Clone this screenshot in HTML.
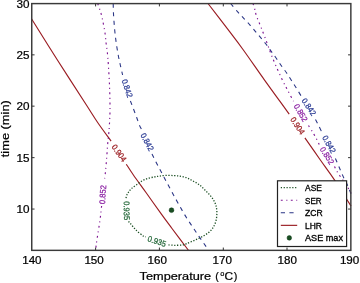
<!DOCTYPE html>
<html><head><meta charset="utf-8"><style>
html,body{margin:0;padding:0;background:#fff;}
svg{display:block;filter:blur(0.3px);}
text{font-family:"Liberation Sans",sans-serif;}
svg g.lab, svg g.tk, svg g.lg {will-change:transform;}
.tk text{stroke:#000;stroke-width:0.22px;}
.lg text{stroke:#000;stroke-width:0.32px;}
</style></head><body>
<svg width="360" height="283" viewBox="0 0 360 283">
<rect width="360" height="283" fill="#fff"/>
<g>
<path d="M31.50,18.80 C35.82,25.67 48.25,45.63 57.40,60.00 C66.55,74.37 79.63,94.50 86.40,105.00 C93.17,115.50 93.88,116.98 98.00,123.00 C102.12,129.02 108.92,138.08 111.10,141.10" fill="none" stroke="#9a1c22" stroke-width="1.15" stroke-linecap="butt"/>
<path d="M126.30,164.20 C127.48,166.00 130.12,170.28 133.40,175.00 C136.68,179.72 141.33,185.97 146.00,192.50 C150.67,199.03 157.07,208.20 161.40,214.20 C165.73,220.20 167.47,222.45 172.00,228.50 C176.53,234.55 185.83,246.83 188.60,250.50" fill="none" stroke="#9a1c22" stroke-width="1.15" stroke-linecap="butt"/>
<path d="M208.00,3.50 C211.35,7.87 222.27,22.03 228.10,29.70 C233.93,37.37 236.98,41.18 243.00,49.50 C249.02,57.82 258.03,70.95 264.20,79.60 C270.37,88.25 275.83,95.65 280.00,101.40 C284.17,107.15 287.67,111.98 289.20,114.10" fill="none" stroke="#9a1c22" stroke-width="1.15" stroke-linecap="butt"/>
<path d="M304.90,137.80 C307.42,141.42 315.05,152.45 320.00,159.50 C324.95,166.55 330.10,173.40 334.60,180.10 C339.10,186.80 344.27,195.38 347.00,199.70 C349.73,204.02 350.33,204.95 351.00,206.00" fill="none" stroke="#9a1c22" stroke-width="1.15" stroke-linecap="butt"/>
<path d="M113.20,3.50 C113.25,5.25 113.33,10.58 113.50,14.00 C113.67,17.42 113.93,20.67 114.20,24.00 C114.47,27.33 114.73,30.67 115.10,34.00 C115.47,37.33 115.88,40.50 116.40,44.00 C116.92,47.50 117.55,51.50 118.20,55.00 C118.85,58.50 119.57,61.67 120.30,65.00 C121.03,68.33 122.22,73.33 122.60,75.00" fill="none" stroke="#2a3585" stroke-width="1.08" stroke-linecap="butt" stroke-dasharray="4.2 4.4"/>
<path d="M130.40,101.00 C130.92,102.33 132.47,106.30 133.50,109.00 C134.53,111.70 135.60,114.47 136.60,117.20 C137.60,119.93 138.67,123.35 139.50,125.40 C140.33,127.45 141.25,128.82 141.60,129.50" fill="none" stroke="#2a3585" stroke-width="1.08" stroke-linecap="butt" stroke-dasharray="4.2 4.4"/>
<path d="M152.00,154.00 C152.62,155.23 153.37,156.90 155.70,161.40 C158.03,165.90 162.60,174.63 166.00,181.00 C169.40,187.37 172.82,193.70 176.10,199.60 C179.38,205.50 182.38,211.00 185.70,216.40 C189.02,221.80 192.58,226.93 196.00,232.00 C199.42,237.07 204.10,243.72 206.20,246.80 C208.30,249.88 208.20,249.88 208.60,250.50" fill="none" stroke="#2a3585" stroke-width="1.08" stroke-linecap="butt" stroke-dasharray="4.2 4.4"/>
<path d="M230.60,3.50 C231.90,5.03 236.13,10.15 238.40,12.70 C240.67,15.25 242.30,16.78 244.20,18.80 C246.10,20.82 247.92,22.67 249.80,24.80 C251.68,26.93 253.62,29.37 255.50,31.60 C257.38,33.83 259.18,35.90 261.10,38.20 C263.02,40.50 265.25,43.12 267.00,45.40 C268.75,47.68 270.00,49.68 271.60,51.90 C273.20,54.12 274.97,56.38 276.60,58.70 C278.23,61.02 279.75,63.45 281.40,65.80 C283.05,68.15 284.90,70.48 286.50,72.80 C288.10,75.12 289.45,77.30 291.00,79.70 C292.55,82.10 294.08,84.43 295.80,87.20 C297.52,89.97 300.38,94.78 301.30,96.30" fill="none" stroke="#2a3585" stroke-width="1.08" stroke-linecap="butt" stroke-dasharray="4.2 4.4"/>
<path d="M315.50,119.50 C316.07,120.60 317.75,123.77 318.90,126.10 C320.05,128.43 321.82,132.27 322.40,133.50" fill="none" stroke="#2a3585" stroke-width="1.08" stroke-linecap="butt" stroke-dasharray="4.2 4.4"/>
<path d="M335.40,158.50 C336.08,160.08 338.03,164.62 339.50,168.00 C340.97,171.38 342.87,175.93 344.20,178.80 C345.53,181.67 346.37,182.67 347.50,185.20 C348.63,187.73 350.42,192.53 351.00,194.00" fill="none" stroke="#2a3585" stroke-width="1.08" stroke-linecap="butt" stroke-dasharray="4.2 4.4"/>
<path d="M97.70,3.50 C98.25,5.13 100.08,10.05 101.00,13.30 C101.92,16.55 102.53,19.72 103.20,23.00 C103.87,26.28 104.52,29.63 105.00,33.00 C105.48,36.37 105.72,40.03 106.10,43.20 C106.48,46.37 106.92,48.30 107.30,52.00 C107.68,55.70 108.02,59.45 108.40,65.40 C108.78,71.35 109.33,80.27 109.60,87.70 C109.87,95.13 110.03,103.78 110.00,110.00 C109.97,116.22 109.60,121.13 109.40,125.00 C109.20,128.87 109.08,130.07 108.80,133.20 C108.52,136.33 108.05,139.73 107.70,143.80 C107.35,147.87 107.05,153.18 106.70,157.60 C106.35,162.02 105.93,166.82 105.60,170.30 C105.27,173.78 104.85,177.13 104.70,178.50" fill="none" stroke="#7e1492" stroke-width="1.15" stroke-linecap="butt" stroke-dasharray="1.9 3.6 1.1 3.4"/>
<path d="M101.60,206.00 C101.33,208.33 100.77,214.43 100.00,220.00 C99.23,225.57 97.75,234.32 97.00,239.40 C96.25,244.48 95.75,248.65 95.50,250.50" fill="none" stroke="#7e1492" stroke-width="1.15" stroke-linecap="butt" stroke-dasharray="1.9 3.6 1.1 3.4"/>
<path d="M253.00,3.50 C253.28,4.42 254.12,6.92 254.70,9.00 C255.28,11.08 255.38,12.80 256.50,16.00 C257.62,19.20 259.68,23.80 261.40,28.20 C263.12,32.60 265.17,38.02 266.80,42.40 C268.43,46.78 269.67,50.57 271.20,54.50 C272.73,58.43 274.23,61.95 276.00,66.00 C277.77,70.05 279.88,74.80 281.80,78.80 C283.72,82.80 285.55,86.27 287.50,90.00 C289.45,93.73 292.50,99.33 293.50,101.20" fill="none" stroke="#7e1492" stroke-width="1.15" stroke-linecap="butt" stroke-dasharray="1.9 3.6 1.1 3.4"/>
<path d="M308.50,125.50 C309.17,126.55 311.22,129.67 312.50,131.80 C313.78,133.93 315.08,136.18 316.20,138.30 C317.32,140.42 318.70,143.47 319.20,144.50" fill="none" stroke="#7e1492" stroke-width="1.15" stroke-linecap="butt" stroke-dasharray="1.9 3.6 1.1 3.4"/>
<path d="M334.50,166.50 C334.82,167.15 335.57,168.93 336.40,170.40 C337.23,171.87 338.48,173.77 339.50,175.30 C340.52,176.83 341.25,177.82 342.50,179.60 C343.75,181.38 345.58,183.77 347.00,186.00 C348.42,188.23 350.33,191.83 351.00,193.00" fill="none" stroke="#7e1492" stroke-width="1.15" stroke-linecap="butt" stroke-dasharray="1.9 3.6 1.1 3.4"/>
<path d="M128.50,221.50 C128.85,221.88 129.35,222.38 130.60,223.80 C131.85,225.22 133.88,227.95 136.00,230.00 C138.12,232.05 141.70,234.93 143.30,236.10 C144.90,237.27 145.22,236.85 145.60,237.00" fill="none" stroke="#1a4e22" stroke-width="1.3" stroke-linecap="butt" stroke-dasharray="1.25 1.6"/>
<path d="M168.50,244.90 C169.58,244.97 172.67,245.30 175.00,245.30 C177.33,245.30 180.55,245.18 182.50,244.90 C184.45,244.62 184.90,244.28 186.70,243.60 C188.50,242.92 191.08,241.77 193.30,240.80 C195.52,239.83 197.77,238.95 200.00,237.80 C202.23,236.65 204.67,235.38 206.70,233.90 C208.73,232.42 210.68,230.97 212.20,228.90 C213.72,226.83 215.02,224.22 215.80,221.50 C216.58,218.78 216.88,215.28 216.90,212.60 C216.92,209.92 216.48,207.53 215.90,205.40 C215.32,203.27 214.43,201.55 213.40,199.80 C212.37,198.05 211.03,196.45 209.70,194.90 C208.37,193.35 206.83,191.95 205.40,190.50 C203.97,189.05 202.55,187.43 201.10,186.20 C199.65,184.97 198.35,184.13 196.70,183.10 C195.05,182.07 192.95,180.92 191.20,180.00 C189.45,179.08 188.07,178.23 186.20,177.60 C184.33,176.97 182.03,176.53 180.00,176.20 C177.97,175.87 176.33,175.73 174.00,175.60 C171.67,175.47 168.42,175.32 166.00,175.40 C163.58,175.48 161.37,175.85 159.50,176.10 C157.63,176.35 156.62,176.55 154.80,176.90 C152.98,177.25 150.67,177.57 148.60,178.20 C146.53,178.83 144.47,179.57 142.40,180.70 C140.33,181.83 138.05,183.67 136.20,185.00 C134.35,186.33 132.53,187.57 131.30,188.70 C130.07,189.83 129.53,190.77 128.80,191.80 C128.07,192.83 127.38,193.78 126.90,194.90 C126.42,196.02 126.07,197.90 125.90,198.50" fill="none" stroke="#1a4e22" stroke-width="1.3" stroke-linecap="butt" stroke-dasharray="1.25 1.6"/>
</g>
<g class="lab">
<text stroke="#2f3f96" stroke-width="0.25" transform="translate(127.3,88.4) rotate(71)" x="0" y="2.95" text-anchor="middle" font-size="8.2" fill="#2f3f96" textLength="19" lengthAdjust="spacingAndGlyphs">0.842</text>
<text stroke="#2f3f96" stroke-width="0.25" transform="translate(147.4,142) rotate(62)" x="0" y="2.95" text-anchor="middle" font-size="8.2" fill="#2f3f96" textLength="19" lengthAdjust="spacingAndGlyphs">0.842</text>
<text stroke="#9c2024" stroke-width="0.25" transform="translate(119.2,153) rotate(54)" x="0" y="2.95" text-anchor="middle" font-size="8.2" fill="#9c2024" textLength="19" lengthAdjust="spacingAndGlyphs">0.904</text>
<text stroke="#8a1ea2" stroke-width="0.25" transform="translate(102.6,194.6) rotate(-86)" x="0" y="2.95" text-anchor="middle" font-size="8.2" fill="#8a1ea2" textLength="19" lengthAdjust="spacingAndGlyphs">0.852</text>
<text stroke="#25683a" stroke-width="0.25" transform="translate(126.8,210.7) rotate(89)" x="0" y="2.95" text-anchor="middle" font-size="8.2" fill="#25683a" textLength="19" lengthAdjust="spacingAndGlyphs">0.935</text>
<text stroke="#25683a" stroke-width="0.25" transform="translate(156.9,241.2) rotate(18)" x="0" y="2.95" text-anchor="middle" font-size="8.2" fill="#25683a" textLength="19" lengthAdjust="spacingAndGlyphs">0.935</text>
<text stroke="#2f3f96" stroke-width="0.25" transform="translate(309,106.9) rotate(55)" x="0" y="2.95" text-anchor="middle" font-size="8.2" fill="#2f3f96" textLength="19" lengthAdjust="spacingAndGlyphs">0.842</text>
<text stroke="#8a1ea2" stroke-width="0.25" transform="translate(300.8,112.7) rotate(60)" x="0" y="2.95" text-anchor="middle" font-size="8.2" fill="#8a1ea2" textLength="19" lengthAdjust="spacingAndGlyphs">0.852</text>
<text stroke="#9c2024" stroke-width="0.25" transform="translate(297.7,125.8) rotate(56)" x="0" y="2.95" text-anchor="middle" font-size="8.2" fill="#9c2024" textLength="19" lengthAdjust="spacingAndGlyphs">0.904</text>
<text stroke="#2f3f96" stroke-width="0.25" transform="translate(329.2,144.2) rotate(60)" x="0" y="2.95" text-anchor="middle" font-size="8.2" fill="#2f3f96" textLength="19" lengthAdjust="spacingAndGlyphs">0.842</text>
<text stroke="#8a1ea2" stroke-width="0.25" transform="translate(327.2,155.6) rotate(57)" x="0" y="2.95" text-anchor="middle" font-size="8.2" fill="#8a1ea2" textLength="19" lengthAdjust="spacingAndGlyphs">0.852</text>
</g>
<circle cx="171.5" cy="210.2" r="2.4" fill="#1a4e22" stroke="#0a3a14" stroke-width="0.5"/>
<rect x="31.75" y="3.6" width="319.10" height="246.75" fill="none" stroke="#3a3a3a" stroke-width="1.45"/>
<g stroke="#333" stroke-width="1">
<line x1="95.60" y1="250.35" x2="95.60" y2="247.55"/>
<line x1="95.60" y1="3.6" x2="95.60" y2="6.40"/>
<line x1="159.40" y1="250.35" x2="159.40" y2="247.55"/>
<line x1="159.40" y1="3.6" x2="159.40" y2="6.40"/>
<line x1="223.30" y1="250.35" x2="223.30" y2="247.55"/>
<line x1="223.30" y1="3.6" x2="223.30" y2="6.40"/>
<line x1="287.00" y1="250.35" x2="287.00" y2="247.55"/>
<line x1="287.00" y1="3.6" x2="287.00" y2="6.40"/>
<line x1="31.75" y1="54.85" x2="34.55" y2="54.85"/>
<line x1="350.85" y1="54.85" x2="348.05" y2="54.85"/>
<line x1="31.75" y1="106.15" x2="34.55" y2="106.15"/>
<line x1="350.85" y1="106.15" x2="348.05" y2="106.15"/>
<line x1="31.75" y1="157.65" x2="34.55" y2="157.65"/>
<line x1="350.85" y1="157.65" x2="348.05" y2="157.65"/>
<line x1="31.75" y1="209.05" x2="34.55" y2="209.05"/>
<line x1="350.85" y1="209.05" x2="348.05" y2="209.05"/>
</g>
<rect x="277.5" y="180.8" width="69.1" height="65.7" fill="#fff" stroke="#222" stroke-width="1.2"/>
<line x1="280.8" y1="187.7" x2="297.2" y2="187.7" stroke="#1a4e22" stroke-width="1.3" stroke-dasharray="1.2 1.66"/>
<line x1="280.8" y1="200.25" x2="297.2" y2="200.25" stroke="#7e1492" stroke-width="1.15" stroke-dasharray="1.9 3.6 1.1 3.4"/>
<line x1="280.8" y1="212.8" x2="297.2" y2="212.8" stroke="#2a3585" stroke-width="1.08" stroke-dasharray="4.2 4.4"/>
<line x1="280.8" y1="225.35" x2="297.2" y2="225.35" stroke="#9a1c22" stroke-width="1.15"/>
<circle cx="289.3" cy="237.9" r="2.3" fill="#1a4e22" stroke="#0a3a14" stroke-width="0.5"/>
<g class="lg">
<text x="305.0" y="191.10" font-size="9" textLength="16.9" lengthAdjust="spacingAndGlyphs">ASE</text>
<text x="305.0" y="203.65" font-size="9" textLength="16.6" lengthAdjust="spacingAndGlyphs">SER</text>
<text x="305.0" y="216.20" font-size="9" textLength="17.7" lengthAdjust="spacingAndGlyphs">ZCR</text>
<text x="305.0" y="228.75" font-size="9" textLength="16.9" lengthAdjust="spacingAndGlyphs">LHR</text>
<text x="305.0" y="241.30" font-size="9" textLength="38.0" lengthAdjust="spacingAndGlyphs">ASE max</text>
</g>
<g fill="#000" class="tk">
<text x="31.9" y="264.2" text-anchor="middle" font-size="10.2" textLength="19.4" lengthAdjust="spacingAndGlyphs">140</text>
<text x="94.1" y="264.2" text-anchor="middle" font-size="10.2" textLength="19.4" lengthAdjust="spacingAndGlyphs">150</text>
<text x="157.3" y="264.2" text-anchor="middle" font-size="10.2" textLength="19.4" lengthAdjust="spacingAndGlyphs">160</text>
<text x="222.3" y="264.2" text-anchor="middle" font-size="10.2" textLength="19.4" lengthAdjust="spacingAndGlyphs">170</text>
<text x="287.2" y="264.2" text-anchor="middle" font-size="10.2" textLength="19.4" lengthAdjust="spacingAndGlyphs">180</text>
<text x="349.6" y="264.2" text-anchor="middle" font-size="10.2" textLength="19.4" lengthAdjust="spacingAndGlyphs">190</text>
<text x="22.9" y="7.60" text-anchor="middle" font-size="10.2" textLength="13" lengthAdjust="spacingAndGlyphs">30</text>
<text x="22.9" y="58.85" text-anchor="middle" font-size="10.2" textLength="13" lengthAdjust="spacingAndGlyphs">25</text>
<text x="22.9" y="110.15" text-anchor="middle" font-size="10.2" textLength="13" lengthAdjust="spacingAndGlyphs">20</text>
<text x="22.9" y="161.65" text-anchor="middle" font-size="10.2" textLength="13" lengthAdjust="spacingAndGlyphs">15</text>
<text x="22.9" y="213.05" text-anchor="middle" font-size="10.2" textLength="13" lengthAdjust="spacingAndGlyphs">10</text>
<text x="139.6" y="280" font-size="10.8" textLength="71.6" lengthAdjust="spacingAndGlyphs">Temperature</text>
<text x="215.2" y="280" font-size="10.8">(</text>
<text x="220.2" y="275.6" font-size="7.4">o</text>
<text x="224.6" y="280" font-size="10.8" textLength="8.6" lengthAdjust="spacingAndGlyphs">C</text>
<text x="233.7" y="280" font-size="10.8">)</text>
<text transform="translate(8.9,157.2) rotate(-90)" x="0" y="0" font-size="11.2" textLength="57" lengthAdjust="spacingAndGlyphs">time (min)</text>
</g>
</svg>
</body></html>
